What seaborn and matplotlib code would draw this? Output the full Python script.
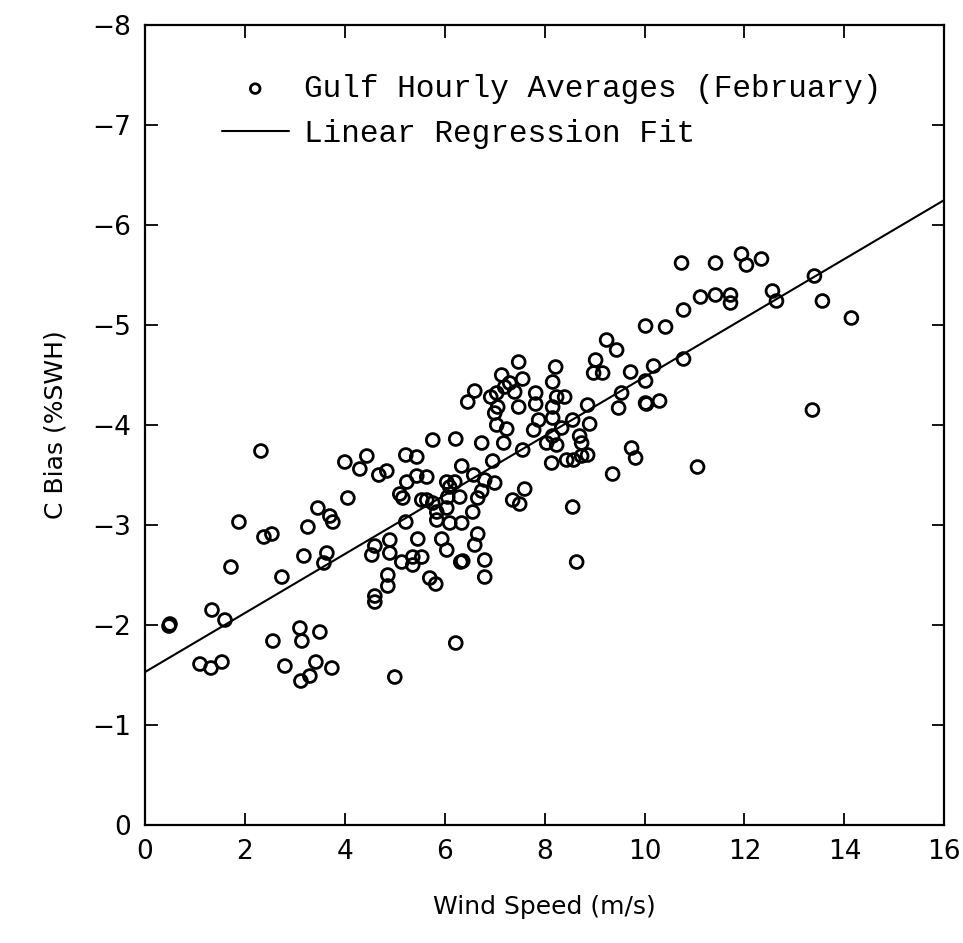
import numpy as np
import pandas as pd
import matplotlib
matplotlib.use("Agg")
import matplotlib.pyplot as plt
import seaborn as sns

# Wind speed (m/s) and C bias (%SWH)
wind_speed = [
    2.32, 1.88, 2.38, 2.54, 1.72, 2.74, 1.34, 1.60, 0.48, 0.50,
    1.10, 1.32, 1.54, 2.56, 3.10, 3.14, 3.50, 2.80, 3.42, 3.74,
    3.12, 3.30, 5.00, 3.18, 3.26, 3.46, 3.70, 3.76, 4.06, 4.00,
    4.30, 4.44, 4.68, 4.84, 5.22, 3.64, 3.58, 4.60, 4.54, 4.90,
    4.90, 4.86, 4.86, 4.60, 4.60, 5.14, 5.10, 5.16, 5.24, 5.22,
    7.48, 8.22, 8.16, 9.02, 8.98, 9.16, 9.24, 9.44, 9.72, 7.14,
    7.30, 7.56, 7.40, 7.20, 6.60, 6.46, 6.92, 7.04, 7.06, 7.82,
    7.82, 7.48, 8.24, 8.40, 8.16, 7.00, 7.04, 7.24, 7.18, 7.88,
    7.78, 8.16, 8.34, 8.56, 8.86, 9.54, 9.48, 10.02, 8.90, 8.70,
    8.74, 8.04, 8.24, 8.16, 7.56, 8.14, 8.44, 8.58, 8.86, 8.74,
    9.74, 9.82, 9.36, 5.76, 6.22, 6.74, 6.96, 5.44, 6.34, 6.58,
    5.44, 5.64, 6.04, 6.20, 6.10, 6.80, 7.00, 6.74, 5.54, 5.64,
    5.76, 6.06, 6.30, 6.04, 6.66, 7.60, 7.36, 7.50, 8.56, 5.84,
    5.84, 6.56, 6.10, 6.34, 5.94, 6.04, 5.46, 6.66, 6.60, 5.36,
    5.54, 5.36, 6.32, 6.36, 6.80, 6.80, 5.70, 5.82, 8.64, 6.22,
    10.74, 11.42, 11.94, 12.04, 12.34, 13.40, 12.56, 12.64, 11.12, 11.42,
    11.72, 11.72, 13.56, 14.14, 10.78, 10.02, 10.42, 10.78, 10.18, 10.02,
    10.04, 10.30, 13.36, 11.06,
]
c_bias = [
    -3.74, -3.03, -2.88, -2.91, -2.58, -2.48, -2.15, -2.05, -1.99, -2.01,
    -1.61, -1.57, -1.63, -1.84, -1.97, -1.84, -1.93, -1.59, -1.63, -1.57,
    -1.44, -1.49, -1.48, -2.69, -2.98, -3.17, -3.09, -3.03, -3.27, -3.63,
    -3.56, -3.69, -3.50, -3.54, -3.70, -2.72, -2.62, -2.79, -2.70, -2.85,
    -2.72, -2.50, -2.39, -2.29, -2.23, -2.63, -3.31, -3.27, -3.43, -3.03,
    -4.63, -4.58, -4.43, -4.65, -4.52, -4.52, -4.85, -4.75, -4.53, -4.50,
    -4.42, -4.46, -4.33, -4.38, -4.34, -4.23, -4.28, -4.32, -4.18, -4.32,
    -4.21, -4.18, -4.28, -4.28, -4.18, -4.12, -4.00, -3.96, -3.82, -4.05,
    -3.95, -4.07, -3.97, -4.05, -4.20, -4.32, -4.17, -4.22, -4.01, -3.89,
    -3.82, -3.82, -3.80, -3.89, -3.75, -3.62, -3.65, -3.65, -3.70, -3.69,
    -3.77, -3.67, -3.51, -3.85, -3.86, -3.82, -3.64, -3.68, -3.59, -3.50,
    -3.49, -3.48, -3.43, -3.43, -3.38, -3.45, -3.42, -3.34, -3.25, -3.25,
    -3.22, -3.28, -3.28, -3.17, -3.27, -3.36, -3.25, -3.21, -3.18, -3.13,
    -3.05, -3.13, -3.02, -3.02, -2.86, -2.75, -2.86, -2.91, -2.80, -2.68,
    -2.68, -2.60, -2.63, -2.64, -2.65, -2.48, -2.47, -2.41, -2.63, -1.82,
    -5.62, -5.62, -5.71, -5.60, -5.66, -5.49, -5.34, -5.24, -5.28, -5.30,
    -5.30, -5.22, -5.24, -5.07, -5.15, -4.99, -4.98, -4.66, -4.59, -4.44,
    -4.21, -4.24, -4.15, -3.58,
]

# Regression fit coefficients
fit_intercept = -1.53
fit_slope = -0.295
fit_x_range = [0, 16]

x_ticks = [0, 2, 4, 6, 8, 10, 12, 14, 16]
y_ticks = [0, -1, -2, -3, -4, -5, -6, -7, -8]

scatter_label = "Gulf Hourly Averages (February)"
line_label = "Linear Regression Fit"

df = pd.DataFrame({"ws": wind_speed, "cb": c_bias})
fx = np.array(fit_x_range, dtype=float)
fit_df = pd.DataFrame({"ws": fx, "cb": fit_intercept + fit_slope * fx})

sns.set_style("ticks")
plt.rcParams["font.family"] = ["DejaVu Sans"]
plt.rcParams["text.color"] = "black"
plt.rcParams["axes.labelcolor"] = "black"

fig = plt.figure(figsize=(9.63, 9.43), dpi=100)
ax = fig.add_axes([0.1506, 0.1251, 0.8300, 0.8484])

sns.scatterplot(data=df, x="ws", y="cb", ax=ax, s=85, facecolor="none",
                edgecolor="black", linewidth=2.0, label=scatter_label, zorder=3)
sns.lineplot(data=fit_df, x="ws", y="cb", ax=ax, color="black", linewidth=1.5,
             label=line_label, zorder=2)

ax.set_xlim(0, 16)
ax.set_ylim(0, -8)
ax.set_xticks(x_ticks)
ax.set_yticks(y_ticks)
ax.tick_params(direction="in", length=9, width=1.3, top=True, right=True,
               labelsize=19, pad=10, colors="black")
for sp in ax.spines.values():
    sp.set_visible(True)
    sp.set_linewidth(1.6)
    sp.set_color("black")

ax.set_xlabel("Wind Speed (m/s)", fontsize=18, labelpad=22, color="black")
ax.set_ylabel("C Bias (%SWH)", fontsize=18, labelpad=18, color="black")

leg = ax.legend(loc="upper left", bbox_to_anchor=(0.096, 0.939), frameon=False,
                borderpad=0, borderaxespad=0, handlelength=2.15,
                handletextpad=0.5, labelspacing=0.48, markerscale=0.75,
                prop={"family": "Liberation Mono", "size": 22.4})
for t in leg.get_texts():
    t.set_color("black")

fig.savefig("out.png", dpi=100)
